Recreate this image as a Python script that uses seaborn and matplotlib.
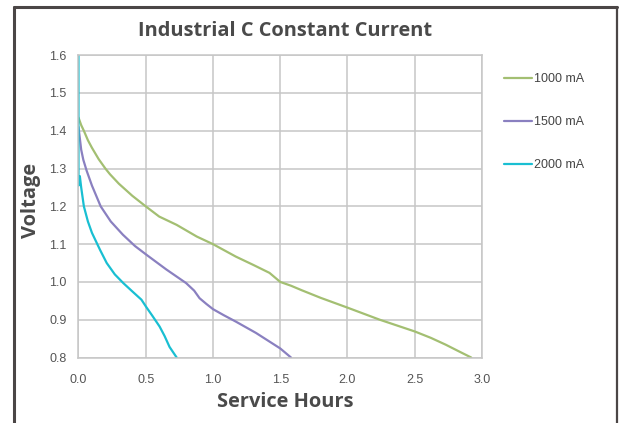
import matplotlib
matplotlib.use("Agg")
import matplotlib.pyplot as plt
from matplotlib.lines import Line2D
import pandas as pd
import seaborn as sns

# ── Data ──────────────────────────────────────────────────────
hours_1000 = [0.00, 0.02, 0.04, 0.07, 0.10, 0.15, 0.20, 0.234, 0.30, 0.40,
              0.50, 0.60, 0.73, 0.88, 1.00, 1.17, 1.30, 1.42, 1.50, 1.58,
              1.66, 1.80, 2.00, 2.24, 2.50, 2.62, 2.73, 2.83, 2.92]
volts_1000 = [1.435, 1.415, 1.40, 1.375, 1.355, 1.325, 1.30, 1.285, 1.26, 1.228,
              1.20, 1.173, 1.151, 1.12, 1.10, 1.067, 1.045, 1.024, 1.00, 0.99,
              0.978, 0.958, 0.932, 0.90, 0.869, 0.852, 0.834, 0.816, 0.80]

hours_1500 = [0.00, 0.02, 0.036, 0.06, 0.10, 0.165, 0.24, 0.33, 0.42, 0.505,
              0.653, 0.80, 0.86, 0.90, 0.95, 1.00, 1.08, 1.17, 1.32, 1.50, 1.58]
volts_1500 = [1.41, 1.35, 1.323, 1.295, 1.255, 1.20, 1.16, 1.125, 1.095, 1.072,
              1.033, 0.997, 0.977, 0.957, 0.942, 0.928, 0.912, 0.895, 0.865, 0.824, 0.80]

hours_2000 = [0.00, 0.00, 0.01, 0.02, 0.04, 0.07, 0.10, 0.14, 0.16, 0.21,
              0.27, 0.333, 0.40, 0.468, 0.505, 0.55, 0.603, 0.64, 0.677, 0.73]
volts_2000 = [1.60, 1.255, 1.28, 1.25, 1.20, 1.16, 1.13, 1.10, 1.085, 1.05,
              1.02, 0.997, 0.975, 0.953, 0.933, 0.91, 0.882, 0.857, 0.828, 0.80]

series_names = ["1000 mA", "1500 mA", "2000 mA"]
x_ticks = [0.0, 0.5, 1.0, 1.5, 2.0, 2.5, 3.0]
y_ticks = [0.8, 0.9, 1.0, 1.1, 1.2, 1.3, 1.4, 1.5, 1.6]

COLORS = {"1000 mA": "#a3bf72", "1500 mA": "#8a80c0", "2000 mA": "#19bfd2"}
GRID   = "#c6c6c6"
TEXT   = "#4a4a4a"

# ── Long-form table for seaborn ───────────────────────────────
frames = []
for name, xs, ys in zip(series_names,
                        [hours_1000, hours_1500, hours_2000],
                        [volts_1000, volts_1500, volts_2000]):
    frames.append(pd.DataFrame({"hours": xs, "volts": ys, "current": name}))
df = pd.concat(frames, ignore_index=True)

# ── Plot ──────────────────────────────────────────────────────
sns.set_style("whitegrid")
plt.rcParams["font.family"] = ["Liberation Sans", "DejaVu Sans"]

fig = plt.figure(figsize=(6.2, 4.23), dpi=100)
ax = fig.add_axes([0.1266, 0.1548, 0.6508, 0.7147])

sns.lineplot(data=df, x="hours", y="volts", hue="current",
             palette=COLORS, sort=False, estimator=None,
             linewidth=1.6, ax=ax)

ax.set_xlim(0, 3.0)
ax.set_ylim(0.8, 1.6)
ax.set_xticks(x_ticks)
ax.set_yticks(y_ticks)
ax.set_xticklabels([f"{t:.1f}" for t in x_ticks])
ax.set_yticklabels([f"{t:.1f}" for t in y_ticks])
ax.tick_params(axis="x", length=0, pad=12, labelsize=9, labelcolor="#555555")
ax.tick_params(axis="y", length=0, pad=8.5, labelsize=9, labelcolor="#555555")
ax.grid(True, color=GRID, linewidth=1.1)
for sp in ax.spines.values():
    sp.set_color(GRID)
    sp.set_linewidth(1.1)

ax.set_xlabel("Service Hours", fontsize=14.4, fontweight="bold",
              color=TEXT, family="Open Sans")
ax.set_ylabel("Voltage", fontsize=14.4, fontweight="bold",
              color=TEXT, family="Open Sans")
ax.xaxis.set_label_coords(0.512, -0.114)
ax.yaxis.set_label_coords(-0.093, 0.518)

fig.text(285 / 620, 1 - 31 / 423, "Industrial C Constant Current",
         ha="center", va="center", fontsize=14.4, fontweight="bold",
         color=TEXT, family="Open Sans")

leg = ax.legend(loc="upper left", bbox_to_anchor=(504 / 620, 1 - 73 / 423),
                bbox_transform=fig.transFigure, frameon=False, fontsize=9,
                handlelength=2.2, handletextpad=0.2, labelspacing=2.5,
                borderpad=0, borderaxespad=0, title=None)
for text in leg.get_texts():
    text.set_color("#444444")

# dark frame round the picture (left, top, right)
FRAME = "#4b4646"
fig.add_artist(Line2D([13.5 / 620, 13.5 / 620], [0, 1 - 7.5 / 423],
                      transform=fig.transFigure, color=FRAME, linewidth=2.2))
fig.add_artist(Line2D([13.5 / 620, 617 / 620], [1 - 7.5 / 423, 1 - 7.5 / 423],
                      transform=fig.transFigure, color=FRAME, linewidth=2.2))
fig.add_artist(Line2D([617 / 620, 617 / 620], [0, 1 - 7.5 / 423],
                      transform=fig.transFigure, color=FRAME, linewidth=1.6))

fig.savefig("out.png", dpi=100)
plt.close(fig)
